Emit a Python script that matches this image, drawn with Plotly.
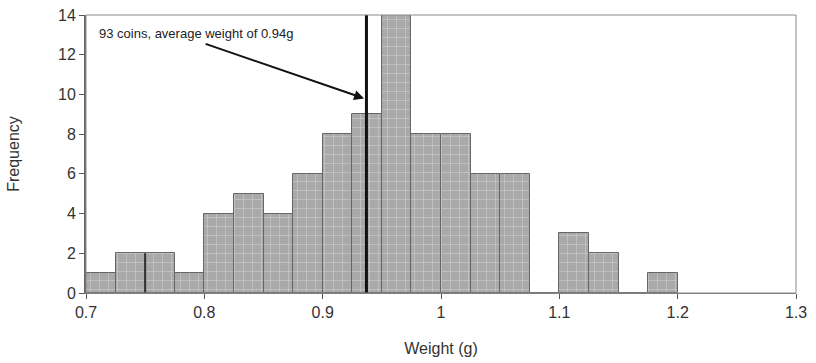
import plotly.graph_objects as go

bin_left = [0.700, 0.725, 0.750, 0.775, 0.800, 0.825, 0.850, 0.875, 0.900, 0.925,
            0.950, 0.975, 1.000, 1.025, 1.050, 1.075, 1.100, 1.125, 1.150, 1.175]
counts = [1, 2, 2, 1, 4, 5, 4, 6, 8, 9, 17, 8, 8, 6, 6, 0, 3, 2, 0, 1]
bin_width = 0.025
mean_weight = 0.937
annotation_text = "93 coins, average weight of 0.94g"
x_ticks = [0.7, 0.8, 0.9, 1.0, 1.1, 1.2, 1.3]
x_tick_labels = ["0.7", "0.8", "0.9", "1", "1.1", "1.2", "1.3"]
y_ticks = [0, 2, 4, 6, 8, 10, 12, 14]

centers = [b + bin_width / 2 for b in bin_left]

FONT = "Liberation Sans, Arial"

fig = go.Figure()
fig.add_trace(go.Bar(
    x=centers, y=counts, width=bin_width,
    marker=dict(
        color="#adadad",
        line=dict(color="#666666", width=1),
        pattern=dict(shape="+", fgcolor="#e6e6e6", bgcolor="#a9a9a9", size=9, solidity=0.15),
    ),
    showlegend=False,
))
# dark edge at 0.75
fig.add_trace(go.Scatter(x=[0.75, 0.75], y=[0, 2], mode="lines",
                         line=dict(color="#333333", width=2), showlegend=False))
# mean line
fig.add_trace(go.Scatter(x=[mean_weight, mean_weight], y=[0, 14], mode="lines",
                         line=dict(color="#111111", width=3), showlegend=False))

fig.add_annotation(x=0.7091, y=13.05, xref="x", yref="y", text=annotation_text,
                   showarrow=False, xanchor="left", yanchor="middle",
                   font=dict(family=FONT, size=13, color="#222222"))
fig.add_annotation(x=mean_weight - 0.002, y=9.8, xref="x", yref="y", text="",
                   showarrow=True, ax=-160, ay=-55, axref="pixel", ayref="pixel",
                   arrowhead=2, arrowsize=1, arrowwidth=2, arrowcolor="#111111")

# plot-area frame (top and right borders, thin gray)
fig.add_shape(type="rect", xref="paper", yref="paper", x0=0, y0=0, x1=1, y1=1,
              line=dict(color="#8a8a8a", width=1), layer="above")

fig.update_layout(
    width=816, height=363,
    margin=dict(l=86, r=20, t=15, b=70, autoexpand=False),
    plot_bgcolor="white", paper_bgcolor="white",
    bargap=0,
    font=dict(family=FONT, size=16, color="#333333"),
    xaxis=dict(
        range=[0.7, 1.3], tickvals=x_ticks, ticktext=x_tick_labels,
        showgrid=False, zeroline=False, showline=True, linecolor="#777777", linewidth=1,
        ticks="outside", ticklen=5, tickcolor="#555555",
        automargin=False,
        title=dict(text="Weight (g)", font=dict(size=16), standoff=22),
    ),
    yaxis=dict(
        range=[0, 14], tickvals=y_ticks,
        showgrid=False, zeroline=False, showline=True, linecolor="#666666", linewidth=2,
        ticks="outside", ticklen=5, tickcolor="#555555",
        automargin=False,
        title=dict(text="Frequency", font=dict(size=16), standoff=34),
    ),
)

fig.write_html("out.html", config={"displayModeBar": False},
               post_script="document.body.style.margin='0';document.body.style.overflow='hidden';")
